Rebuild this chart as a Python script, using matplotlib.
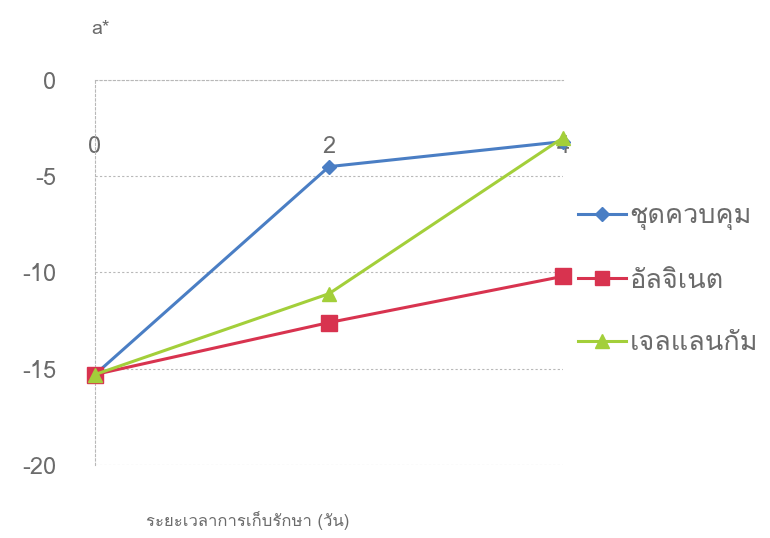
import matplotlib
matplotlib.use("Agg")
import matplotlib.pyplot as plt
from matplotlib import font_manager
from matplotlib.ft2font import FT2Font

days = [0, 2, 4]
control = [-15.3, -4.5, -3.2]
alginate = [-15.3, -12.6, -10.2]
gellan = [-15.3, -11.1, -3.0]
series_labels = ["ชุดควบคุม", "อัลจิเนต", "เจลแลนกัม"]
y_ticks = [0, -5, -10, -15, -20]
x_label = "ระยะเวลาการเก็บรักษา (วัน)"
y_label = "a*"


def find_thai_family():
    """Return the first installed family that can draw Thai text."""
    seen = set()
    for entry in font_manager.fontManager.ttflist:
        if entry.name in seen:
            continue
        seen.add(entry.name)
        try:
            font = FT2Font(entry.fname)
            if font.get_char_index(0x0E0A) and font.get_char_index(0x0E38):
                return entry.name
        except Exception:
            continue
    return None


thai = find_thai_family()
families = ([thai] if thai else []) + ["DejaVu Sans"]
plt.rcParams["font.family"] = families

TEXT = "#6b6b6b"
GRID = "#b8b8b8"

fig = plt.figure(figsize=(7.7, 5.38), dpi=100)
ax = fig.add_axes([0.1234, 0.1357, 0.6078, 0.7156])

ax.plot(days, control, color="#4a7ec4", lw=2.2, marker="D", ms=7,
        label=series_labels[0], clip_on=False, zorder=3)
ax.plot(days, alginate, color="#d8334f", lw=2.2, marker="s", ms=11,
        label=series_labels[1], clip_on=False, zorder=3)
ax.plot(days, gellan, color="#a3cf3a", lw=2.2, marker="^", ms=10,
        label=series_labels[2], clip_on=False, zorder=4)

ax.set_xlim(0, 4)
ax.set_ylim(-20, 0)
ax.set_yticks(y_ticks)
ax.set_yticklabels([str(v) for v in y_ticks])
ax.set_xticks(days)
ax.set_xticklabels([str(d) for d in days])

ax.yaxis.grid(True, color=GRID, ls=(0, (2, 2)), lw=0.8)
ax.set_axisbelow(True)
for side in ["right", "bottom"]:
    ax.spines[side].set_visible(False)
for side in ["top", "left"]:
    ax.spines[side].set_color(GRID)
    ax.spines[side].set_linestyle((0, (2, 2)))
    ax.spines[side].set_linewidth(0.8)

# x labels sit on the zero line, pushed down into the plot area
ax.xaxis.set_ticks_position("top")
ax.tick_params(axis="x", length=0, labelsize=17, labelcolor=TEXT,
               labelbottom=False, labeltop=True, pad=-56)
ax.tick_params(axis="y", length=0, labelsize=17, labelcolor=TEXT, pad=28)

fig.text(0.322, 0.033, x_label, ha="center", va="center",
         fontsize=12, color=TEXT)
fig.text(0.13, 0.947, y_label, ha="center", va="center",
         fontsize=14, color=TEXT)

ax.legend(loc="upper left", bbox_to_anchor=(0.751, 0.62),
          bbox_transform=fig.transFigure, frameon=False,
          fontsize=19.5, labelcolor=TEXT, handlelength=1.75,
          handletextpad=0.15, labelspacing=1.42, borderpad=0,
          borderaxespad=0, markerscale=0.95)

fig.savefig("out.png", dpi=100, facecolor="white")
